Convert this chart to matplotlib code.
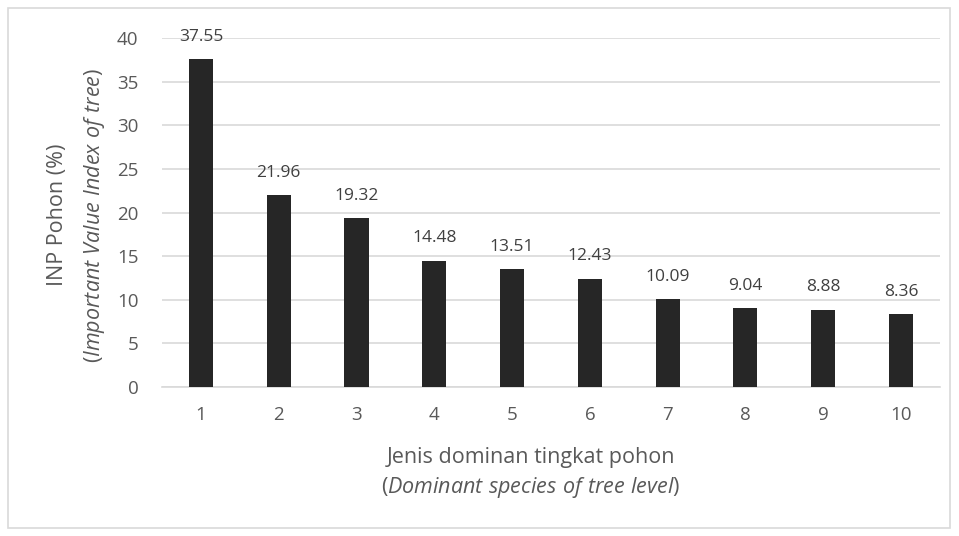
import matplotlib.pyplot as plt
from matplotlib.patches import Rectangle

# Data
species = ['1', '2', '3', '4', '5', '6', '7', '8', '9', '10']
inp_values = [37.55, 21.96, 19.32, 14.48, 13.51, 12.43, 10.09, 9.04, 8.88, 8.36]

plt.rcParams['font.family'] = ['Open Sans', 'DejaVu Sans']
plt.rcParams['mathtext.fontset'] = 'custom'
plt.rcParams['mathtext.rm'] = 'Open Sans'
plt.rcParams['mathtext.it'] = 'Open Sans:italic'

text_color = '#595959'

fig = plt.figure(figsize=(9.59, 5.36), dpi=100)
ax = fig.add_axes([0.169, 0.278, 0.811, 0.651])

# outer chart border
fig.patches.append(Rectangle((8 / 959, 8 / 536), 942 / 959, 520 / 536,
                             transform=fig.transFigure, fill=False,
                             edgecolor='#d9d9d9', linewidth=1.2))

x = list(range(1, len(species) + 1))
ax.bar(x, inp_values, width=0.31, color='#262626', zorder=3)

for xi, v in zip(x, inp_values):
    ax.annotate(f'{v:.2f}', (xi, v), xytext=(0, 16), textcoords='offset points',
                ha='center', va='center', fontsize=12.5, color='#404040')

ax.set_xlim(0.5, 10.5)
ax.set_ylim(0, 40)
ax.set_yticks(range(0, 41, 5))
ax.set_xticks(x)
ax.set_xticklabels(species)
ax.yaxis.grid(True, color='#d9d9d9', linewidth=1.2, zorder=0)
ax.tick_params(axis='both', length=0, labelsize=13.5, labelcolor=text_color)
ax.tick_params(axis='x', pad=14)
ax.tick_params(axis='y', pad=17)
for s in ax.spines.values():
    s.set_visible(False)
ax.spines['bottom'].set_visible(True)
ax.spines['bottom'].set_color('#d9d9d9')
ax.spines['bottom'].set_linewidth(1.2)

# axis titles
fig.text(58 / 959, 1 - 215 / 536, 'INP Pohon (%)', rotation=90, ha='center', va='center',
         fontsize=15.5, color=text_color)
fig.text(95 / 959, 1 - 215 / 536, r'($\mathit{Important\ Value\ Index\ of\ tree}$)',
         rotation=90, ha='center', va='center', fontsize=15.5, color=text_color)
fig.text(531 / 959, 1 - 457 / 536, 'Jenis dominan tingkat pohon', ha='center', va='center',
         fontsize=15.5, color=text_color)
fig.text(531 / 959, 1 - 487 / 536, r'($\mathit{Dominant\ species\ of\ tree\ level}$)',
         ha='center', va='center', fontsize=15.5, color=text_color)

fig.savefig('out.png', dpi=100)
